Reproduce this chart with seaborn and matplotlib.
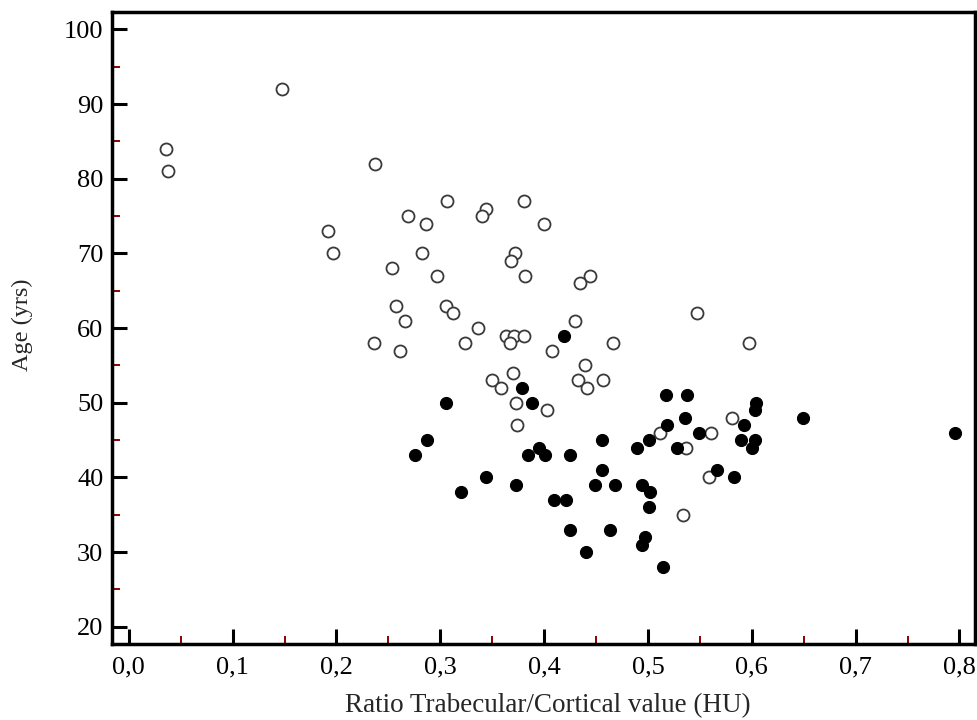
import numpy as np
import pandas as pd
import matplotlib
matplotlib.use("Agg")
import matplotlib.pyplot as plt
import seaborn as sns
from matplotlib.ticker import MultipleLocator, FuncFormatter

# Open circles
open_ratio = [0.036, 0.038, 0.148, 0.237, 0.192, 0.197, 0.269, 0.286, 0.306, 0.344,
              0.340, 0.381, 0.400, 0.282, 0.253, 0.297, 0.372, 0.368, 0.382, 0.444,
              0.435, 0.257, 0.266, 0.305, 0.312, 0.336, 0.236, 0.261, 0.324, 0.363,
              0.371, 0.381, 0.367, 0.430, 0.466, 0.408, 0.439, 0.370, 0.350, 0.358,
              0.433, 0.441, 0.457, 0.373, 0.403, 0.374, 0.547, 0.597, 0.581, 0.512,
              0.561, 0.537, 0.559, 0.534]
open_age = [84, 81, 92, 82, 73, 70, 75, 74, 77, 76,
            75, 77, 74, 70, 68, 67, 70, 69, 67, 67,
            66, 63, 61, 63, 62, 60, 58, 57, 58, 59,
            59, 59, 58, 61, 58, 57, 55, 54, 53, 52,
            53, 52, 53, 50, 49, 47, 62, 58, 48, 46,
            46, 44, 40, 35]

# Filled circles
filled_ratio = [0.419, 0.379, 0.305, 0.388, 0.287, 0.276, 0.344, 0.320, 0.373, 0.384,
                0.395, 0.401, 0.425, 0.409, 0.421, 0.425, 0.440, 0.463, 0.456, 0.456,
                0.449, 0.468, 0.489, 0.501, 0.494, 0.502, 0.501, 0.497, 0.494, 0.514,
                0.517, 0.538, 0.604, 0.603, 0.649, 0.796, 0.536, 0.518, 0.592, 0.549,
                0.528, 0.590, 0.603, 0.600, 0.566, 0.583]
filled_age = [59, 52, 50, 50, 45, 43, 40, 38, 39, 43,
              44, 43, 43, 37, 37, 33, 30, 33, 45, 41,
              39, 39, 44, 45, 39, 38, 36, 32, 31, 28,
              51, 51, 50, 49, 48, 46, 48, 47, 47, 46,
              44, 45, 45, 44, 41, 40]

x_ticks = [0.0, 0.1, 0.2, 0.3, 0.4, 0.5, 0.6, 0.7, 0.8]
y_ticks = [20, 30, 40, 50, 60, 70, 80, 90, 100]

df_open = pd.DataFrame({"ratio": open_ratio, "age": open_age})
df_fill = pd.DataFrame({"ratio": filled_ratio, "age": filled_age})

sns.set_theme(style="white")
plt.rcParams['font.family'] = ['Liberation Serif', 'DejaVu Serif']

fig = plt.figure(figsize=(9.78, 7.2), dpi=100)
ax = fig.add_axes([0.1142, 0.1056, 0.8828, 0.8774])

sns.scatterplot(data=df_open, x="ratio", y="age", ax=ax, s=75,
                facecolor="white", edgecolor="#3a3a3a", linewidth=1.3, zorder=3)
sns.scatterplot(data=df_fill, x="ratio", y="age", ax=ax, s=75,
                color="black", edgecolor="black", linewidth=0.8, zorder=4)

ax.set_xlim(-0.0165, 0.815)
ax.set_ylim(17.7, 102.3)
ax.set_xticks(x_ticks)
ax.set_yticks(y_ticks)
ax.xaxis.set_minor_locator(MultipleLocator(0.05))
ax.yaxis.set_minor_locator(MultipleLocator(5))
ax.xaxis.set_major_formatter(FuncFormatter(lambda v, p: f"{v:.1f}".replace(".", ",")))
ax.yaxis.set_major_formatter(FuncFormatter(lambda v, p: f"{int(round(v))}"))

for s in ax.spines.values():
    s.set_visible(True)
    s.set_linewidth(2.5)
    s.set_color("black")

ax.tick_params(which="major", direction="in", length=10.5, width=2.2, color="black",
               labelsize=19, labelcolor="black", bottom=True, left=True, top=False, right=False)
ax.tick_params(axis="y", which="major", pad=6)
ax.tick_params(axis="x", which="major", pad=9)
ax.tick_params(which="minor", direction="in", length=5.5, width=1.4, color="#8b0000",
               bottom=True, left=True, top=False, right=False)

ax.set_xlabel("Ratio Trabecular/Cortical value (HU)", fontsize=19.5)
ax.set_ylabel("Age (yrs)", fontsize=17.5)
ax.xaxis.set_label_coords(0.505, -0.0776)
ax.yaxis.set_label_coords(-0.0912, 0.505)
ax.grid(False)

fig.savefig("out.png", dpi=100, facecolor="white")
